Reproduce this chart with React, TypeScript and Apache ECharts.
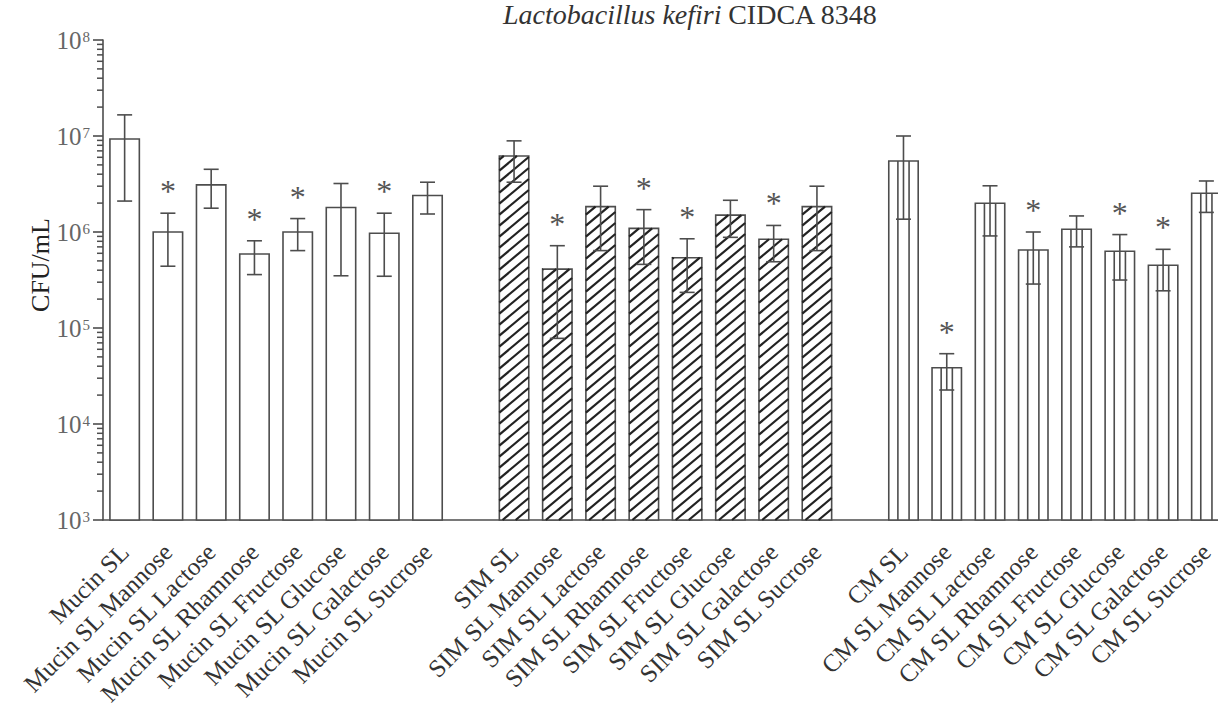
import React, { useEffect, useRef } from "react";
import * as echarts from "echarts";

const MUCIN_LABELS = ["Mucin SL", "Mucin SL Mannose", "Mucin SL Lactose", "Mucin SL Rhamnose", "Mucin SL Fructose", "Mucin SL Glucose", "Mucin SL Galactose", "Mucin SL Sucrose"];
const SIM_LABELS = ["SIM SL", "SIM SL Mannose", "SIM SL Lactose", "SIM SL Rhamnose", "SIM SL Fructose", "SIM SL Glucose", "SIM SL Galactose", "SIM SL Sucrose"];
const CM_LABELS = ["CM SL", "CM SL Mannose", "CM SL Lactose", "CM SL Rhamnose", "CM SL Fructose", "CM SL Glucose", "CM SL Galactose", "CM SL Sucrose"];
const CATEGORIES = [...MUCIN_LABELS, "", ...SIM_LABELS, " ", ...CM_LABELS];

const MUCIN_MEAN = [9.3e6, 1.0e6, 3.1e6, 5.9e5, 1.0e6, 1.8e6, 9.7e5, 2.4e6];
const MUCIN_HI = [1.66e7, 1.57e6, 4.5e6, 8.1e5, 1.38e6, 3.2e6, 1.57e6, 3.3e6];
const MUCIN_LO = [2.1e6, 4.4e5, 1.77e6, 3.6e5, 6.4e5, 3.5e5, 3.46e5, 1.54e6];
const MUCIN_SIG = [0, 1, 0, 1, 1, 0, 1, 0];

const SIM_MEAN = [6.2e6, 4.1e5, 1.84e6, 1.09e6, 5.4e5, 1.5e6, 8.4e5, 1.84e6];
const SIM_HI = [8.9e6, 7.2e5, 3.0e6, 1.71e6, 8.5e5, 2.14e6, 1.17e6, 3.0e6];
const SIM_LO = [3.3e6, 7.8e4, 6.4e5, 4.6e5, 2.35e5, 8.8e5, 4.9e5, 6.4e5];
const SIM_SIG = [0, 1, 0, 1, 1, 0, 1, 0];

const CM_MEAN = [5.5e6, 3.85e4, 1.99e6, 6.5e5, 1.07e6, 6.3e5, 4.5e5, 2.53e6];
const CM_HI = [1.0e7, 5.4e4, 3.03e6, 1.0e6, 1.47e6, 9.4e5, 6.6e5, 3.4e6];
const CM_LO = [1.36e6, 2.26e4, 9.1e5, 2.87e5, 7.0e5, 3.16e5, 2.44e5, 1.6e6];
const CM_SIG = [0, 1, 0, 1, 0, 1, 1, 0];

const Y_MIN = 1e3;
const Y_MAX = 1e8;
const MINOR_MULTIPLIERS = [2, 3, 4, 5, 6, 7, 8, 9];
const DECADES = [1e3, 1e4, 1e5, 1e6, 1e7];

const FONT = "Liberation Serif";
const LINE = "#4d4d4d";

export default function App() {
  const ref = useRef<HTMLDivElement>(null);
  useEffect(() => {
    document.body.style.margin = "0";
    if (!ref.current) return;
    const chart = echarts.init(ref.current, undefined, { renderer: "svg" });

    const groups = [
      { mean: MUCIN_MEAN, hi: MUCIN_HI, lo: MUCIN_LO, sig: MUCIN_SIG },
      { mean: SIM_MEAN, hi: SIM_HI, lo: SIM_LO, sig: SIM_SIG },
      { mean: CM_MEAN, hi: CM_HI, lo: CM_LO, sig: CM_SIG },
    ];
    const barData: number[][] = [];
    groups.forEach((g, gi) => {
      g.mean.forEach((m, i) => {
        barData.push([gi * 9 + i, m, g.lo[i], g.hi[i], gi, g.sig[i]]);
      });
    });
    const minorData: number[][] = [];
    DECADES.forEach((d) => MINOR_MULTIPLIERS.forEach((k) => minorData.push([0, d * k])));

    const renderBar = (params: any, api: any) => {
      const idx = api.value(0);
      const v = api.value(1);
      const lo = api.value(2);
      const hi = api.value(3);
      const g = api.value(4);
      const sig = api.value(5);
      const top = api.coord([idx, v]);
      const base = api.coord([idx, Y_MIN]);
      const cw = api.size([1, 0])[0];
      const bw = cw * 0.68;
      const cx = top[0];
      const x0 = cx - bw / 2;
      const y0 = top[1];
      const y1 = base[1];
      const children: any[] = [];
      children.push({
        type: "rect",
        shape: { x: x0, y: y0, width: bw, height: y1 - y0 },
        style: { fill: "#fff", stroke: LINE, lineWidth: 1.6 },
      });
      if (g === 1) {
        const t = Math.tan((40 * Math.PI) / 180);
        const s = 11;
        for (let c = y1 + bw * t; c > y0; c -= s) {
          const a = Math.max(0, (c - y1) / t);
          const b = Math.min(bw, (c - y0) / t);
          if (b <= a) continue;
          children.push({
            type: "line",
            shape: { x1: x0 + a, y1: c - a * t, x2: x0 + b, y2: c - b * t },
            style: { stroke: "#222", lineWidth: 2.2 },
          });
        }
      } else if (g === 2) {
        [-0.19, 0.19].forEach((f) => {
          children.push({
            type: "line",
            shape: { x1: cx + f * bw, y1: y0, x2: cx + f * bw, y2: y1 },
            style: { stroke: LINE, lineWidth: 1.6 },
          });
        });
      }
      const ph = api.coord([idx, hi]);
      const pl = api.coord([idx, lo]);
      const cap = 7.5;
      children.push(
        { type: "line", shape: { x1: cx, y1: ph[1], x2: cx, y2: pl[1] }, style: { stroke: LINE, lineWidth: 1.6 } },
        { type: "line", shape: { x1: cx - cap, y1: ph[1], x2: cx + cap, y2: ph[1] }, style: { stroke: LINE, lineWidth: 1.6 } },
        { type: "line", shape: { x1: cx - cap, y1: pl[1], x2: cx + cap, y2: pl[1] }, style: { stroke: LINE, lineWidth: 1.6 } }
      );
      if (sig) {
        children.push({
          type: "text",
          style: {
            text: "*",
            x: cx,
            y: ph[1] - 22,
            align: "center",
            verticalAlign: "middle",
            fontSize: 32,
            fontFamily: FONT,
            fill: "#555",
          },
        });
      }
      return { type: "group", children };
    };

    const renderMinor = (params: any, api: any) => {
      const p = api.coord([0, api.value(1)]);
      const cw = api.size([1, 0])[0];
      const x = p[0] - cw / 2;
      return {
        type: "line",
        shape: { x1: x - 6, y1: p[1], x2: x, y2: p[1] },
        style: { stroke: LINE, lineWidth: 1.5 },
      };
    };

    chart.setOption({
      animation: false,
      backgroundColor: "#fff",
      graphic: [
        {
          type: "text",
          x: 503,
          y: 14,
          style: {
            text: "{i|Lactobacillus kefiri}  {r|CIDCA 8348}",
            verticalAlign: "middle",
            rich: {
              i: { fontFamily: FONT, fontSize: 28, fontStyle: "italic", fill: "#333" },
              r: { fontFamily: FONT, fontSize: 28, fill: "#333" },
            },
          },
        },
        {
          type: "text",
          x: 40,
          y: 265,
          rotation: Math.PI / 2,
          style: {
            text: "CFU/mL",
            fontFamily: FONT,
            fontSize: 26,
            fill: "#222",
            align: "center",
            verticalAlign: "middle",
          },
        },
      ],
      grid: { left: 103, right: -10, top: 40, bottom: 192, containLabel: false, outerBoundsMode: "none" },
      xAxis: {
        type: "category",
        data: CATEGORIES,
        axisLine: { lineStyle: { color: LINE, width: 1.6 } },
        axisTick: { alignWithLabel: true, length: 9, interval: 0, lineStyle: { color: LINE, width: 1.6 } },
        axisLabel: {
          interval: 0,
          rotate: 45,
          margin: 28,
          fontFamily: FONT,
          fontSize: 25,
          color: "#333",
        },
        splitLine: { show: false },
      },
      yAxis: {
        type: "log",
        logBase: 10,
        min: Y_MIN,
        max: Y_MAX,
        axisLine: { show: true, lineStyle: { color: LINE, width: 1.6 } },
        axisTick: { show: true, length: 10, lineStyle: { color: LINE, width: 1.6 } },
        splitLine: { show: false },
        axisLabel: {
          margin: 13,
          formatter: (v: number) => `{b|10}{s|${Math.round(Math.log10(v))}}`,
          rich: {
            b: { fontFamily: FONT, fontSize: 25, color: "#666", lineHeight: 26 },
            s: { fontFamily: FONT, fontSize: 15, color: "#666", lineHeight: 15, verticalAlign: "top", padding: [2, 0, 0, 1] },
          },
        },
      },
      series: [
        {
          type: "custom",
          renderItem: renderMinor,
          data: minorData,
          silent: true,
          clip: false,
        },
        {
          type: "custom",
          renderItem: renderBar,
          data: barData,
          encode: { x: 0, y: 1 },
          clip: false,
        },
      ],
    });
    return () => chart.dispose();
  }, []);
  return <div ref={ref} style={{ width: 1218, height: 712 }} />;
}
